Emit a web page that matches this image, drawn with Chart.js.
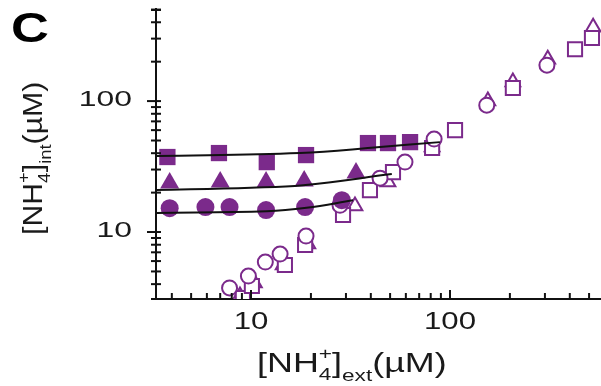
<!DOCTYPE html>
<html>
<head>
<meta charset="utf-8">
<script src="https://cdn.jsdelivr.net/npm/chart.js@4/dist/chart.umd.min.js"></script>
<style>
  html, body { margin: 0; padding: 0; background: #fff; }
  #wrap { width: 601px; height: 386px; }
</style>
</head>
<body>
<div id="wrap"><canvas id="chart"></canvas></div>
<script>
const PURPLE = "#7b2a8b";
const FONT = "'Liberation Sans', Arial, sans-serif";

// filled symbols (three conditions)
const sqX = [3.8, 6.9, 12.0, 18.9, 38.7, 48.8, 63];
const sqY = [37.4, 40.1, 34.2, 38.7, 47.8, 47.8, 48.6];
const triX = [3.9, 7.0, 11.9, 18.5, 33.7];
const triY = [23.7, 24.1, 24.1, 24.5, 28.2];
const cirX = [3.9, 5.9, 7.8, 11.9, 18.7, 28.6];
const cirY = [15.2, 15.5, 15.5, 14.7, 15.5, 17.5];

// fitted curves
const fitSqX = [3.3, 17.6, 44.5, 89];
const fitSqY = [38, 40.1, 44.6, 48.6];
const fitTriX = [3.3, 10, 18.3, 51];
const fitTriY = [20.9, 21.8, 22.8, 27.7];
const fitCirX = [3.3, 12, 19, 32.6];
const fitCirY = [14.0, 14.4, 15.3, 17.5];

// open symbols
const oCirX = [7.8, 9.7, 11.8, 14.0, 18.9, 28, 44.5, 59.4, 83.2, 153, 307];
const oCirY = [3.74, 4.61, 5.9, 6.79, 9.31, 16, 25.8, 34.2, 51.3, 93, 188];
const oTriX = [8.8, 10.4, 14.5, 19.3, 33.3, 48.8, 81.3, 155, 207, 310, 524];
const oTriY = [3.25, 4.08, 5.6, 8.09, 15.8, 24.1, 44.6, 100, 140, 209, 367];
const oSqX = [9.1, 10.1, 14.8, 18.7, 29, 39.6, 51.7, 81.3, 106, 207, 425, 517];
const oSqY = [3.13, 3.87, 5.6, 7.96, 13.5, 20.9, 28.7, 43.8, 60, 126, 249, 303];

// axis ticks
const xTicks = [4, 5, 6, 7, 8, 9, 10, 20, 30, 40, 50, 60, 70, 80, 90, 100, 200, 300, 400, 500];
const yTicks = [4, 5, 6, 7, 8, 9, 10, 20, 30, 40, 50, 60, 70, 80, 90, 100, 200, 300, 400, 500];
const xLabels = [10, 100];
const yLabels = [10, 100];

const pts = (xs, ys) => xs.map((x, i) => ({ x: x, y: ys[i] }));

function filled(data, style, r) {
  return { data: data, showLine: false, pointStyle: style, pointRadius: r, pointHoverRadius: r,
    backgroundColor: PURPLE, borderColor: PURPLE, borderWidth: 0, order: 2 };
}
function open(data, style, r, order) {
  return { data: data, showLine: false, pointStyle: style, pointRadius: r, pointHoverRadius: r,
    backgroundColor: "#fff", borderColor: PURPLE, pointBorderWidth: 2, borderWidth: 2, order: order };
}
function fit(data) {
  return { data: data, showLine: true, pointRadius: 0, borderColor: "#111", borderWidth: 2,
    tension: 0.4, fill: false, order: 0 };
}

// text stretched horizontally like the source figure
function wideText(ctx, txt, x, y, size, sx, align, bold) {
  ctx.save();
  ctx.font = (bold ? "bold " : "") + size + "px " + FONT;
  const w = ctx.measureText(txt).width * sx;
  let x0 = x;
  if (align === "center") x0 = x - w / 2;
  if (align === "right") x0 = x - w;
  ctx.translate(x0, y);
  ctx.scale(sx, 1);
  ctx.textAlign = "left";
  ctx.fillText(txt, 0, 0);
  ctx.restore();
  return w;
}

// "[NH4+]sub(µM)" drawn left to right from (x, y) baseline
function nhLabel(ctx, sub, x, y, big, small, sx) {
  let cx = x;
  cx += wideText(ctx, "[NH", cx, y, big, sx, "left");
  const w1 = wideText(ctx, "4", cx, y + big * 0.28, small, sx, "left");
  const w2 = wideText(ctx, "+", cx, y - big * 0.48, small, sx, "left");
  cx += Math.max(w1, w2);
  cx += wideText(ctx, "]", cx, y, big, sx, "left");
  cx += wideText(ctx, sub, cx, y + big * 0.33, small, sx, "left");
  wideText(ctx, "(\u00b5M)", cx, y, big, sx, "left");
}

const decor = {
  id: "decor",
  afterDraw(chart) {
    const { ctx, chartArea: a, scales: { x, y } } = chart;
    ctx.save();
    ctx.strokeStyle = "#111";
    ctx.lineWidth = 2;
    xTicks.forEach(v => {
      const px = x.getPixelForValue(v);
      const major = xLabels.includes(v);
      ctx.beginPath();
      ctx.moveTo(px, a.bottom + 1);
      ctx.lineTo(px, a.bottom - (major ? 9 : 6));
      ctx.stroke();
    });
    yTicks.forEach(v => {
      const py = y.getPixelForValue(v);
      const major = yLabels.includes(v);
      ctx.beginPath();
      ctx.moveTo(a.left - (major ? 9 : 5), py);
      ctx.lineTo(a.left + 5, py);
      ctx.stroke();
    });
    // end caps
    ctx.beginPath();
    ctx.moveTo(a.left - 5, a.top + 1); ctx.lineTo(a.left + 5, a.top + 1);
    ctx.moveTo(a.left - 5, a.bottom); ctx.lineTo(a.left + 5, a.bottom);
    ctx.stroke();

    ctx.fillStyle = "#1a1a1a";
    ctx.textBaseline = "middle";
    yLabels.forEach(v => wideText(ctx, String(v), a.left - 24, y.getPixelForValue(v) - 1, 22, 1.45, "right"));
    xLabels.forEach(v => wideText(ctx, String(v), x.getPixelForValue(v), a.bottom + 23, 24, 1.3, "center"));

    ctx.textBaseline = "alphabetic";
    nhLabel(ctx, "ext", 257, 372, 27, 17, 1.33);

    ctx.save();
    ctx.translate(42, 235);
    ctx.rotate(-Math.PI / 2);
    nhLabel(ctx, "int", 0, 0, 28, 17, 1.08);
    ctx.restore();

    ctx.fillStyle = "#000";
    wideText(ctx, "C", 11, 42, 42, 1.25, "left", true);
    ctx.restore();
  }
};

const chart = new Chart(document.getElementById("chart"), {
  type: "scatter",
  data: {
    datasets: [
      fit(pts(fitSqX, fitSqY)),
      fit(pts(fitTriX, fitTriY)),
      fit(pts(fitCirX, fitCirY)),
      filled(pts(sqX, sqY), "rect", 11.5),
      filled(pts(triX, triY), "triangle", 11),
      filled(pts(cirX, cirY), "circle", 9),
      open(pts(oCirX, oCirY), "circle", 7.5, 3),
      open(pts(oSqX, oSqY), "rect", 10, 4),
      open(pts(oTriX, oTriY), "triangle", 8.5, 5)
    ]
  },
  options: {
    responsive: true,
    maintainAspectRatio: false,
    animation: false,
    layout: { autoPadding: false, padding: { top: 9, right: 0, left: 0, bottom: 0 } },
    plugins: { legend: { display: false }, tooltip: { enabled: false } },
    scales: {
      x: {
        type: "logarithmic",
        min: 3.33,
        max: 574,
        ticks: { display: false },
        grid: { display: false },
        border: { color: "#111", width: 2 },
        afterFit: s => { s.height = 87; }
      },
      y: {
        type: "logarithmic",
        min: 3.08,
        max: 505,
        ticks: { display: false },
        grid: { display: false },
        border: { color: "#111", width: 2 },
        afterFit: s => { s.width = 156; }
      }
    }
  },
  plugins: [decor]
});
</script>
</body>
</html>
